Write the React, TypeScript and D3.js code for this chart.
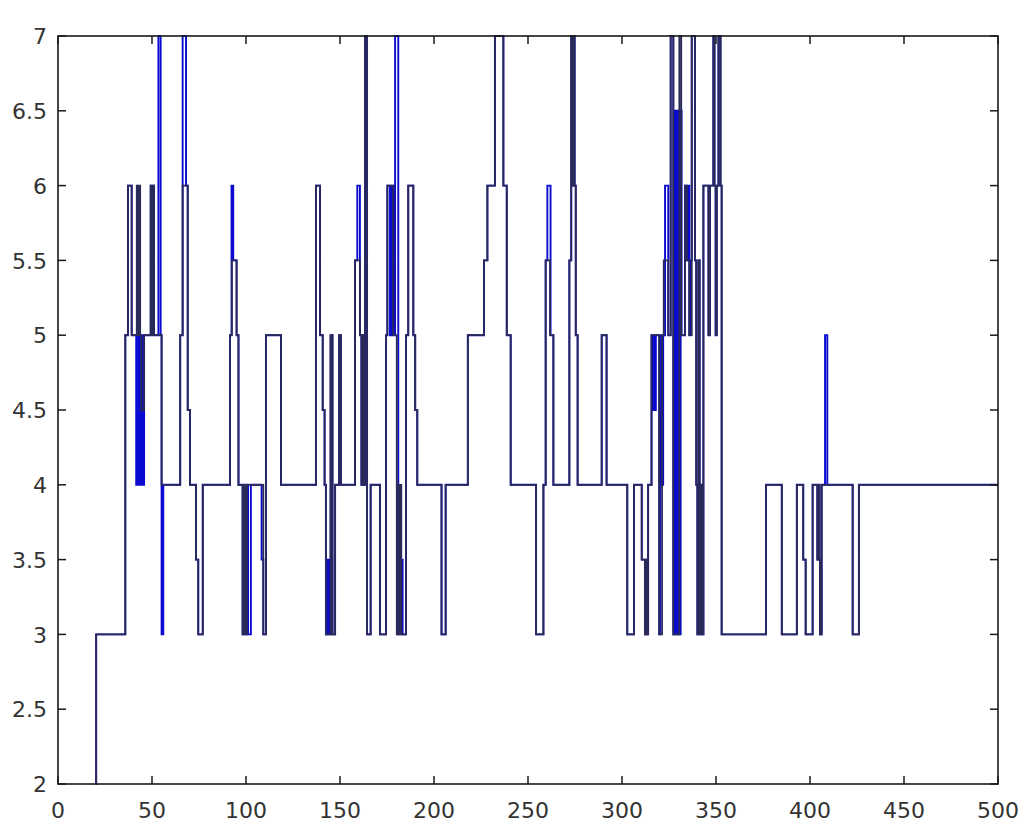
import React from "react";
import * as d3 from "d3";

// Step change points (x where the value starts, value)
const darkX = [20, 20.3, 35.8, 37.2, 39.2, 41.9, 42.5, 43.1, 43.7, 44.3, 45.8, 49.3, 49.9, 50.5, 51.1, 55.1, 65, 66.3, 69, 70.2, 73.4, 74.6, 77, 91.5, 92.5, 95, 96, 98.2, 98.9, 99.6, 100.5, 109.2, 110.6, 118.6, 137.2, 139.4, 140.8, 141.8, 142.5, 145, 146, 147.4, 149.5, 150.5, 158, 160.6, 161.4, 162, 162.6, 163.3, 164.4, 166.3, 171.3, 174.5, 175.2, 178.3, 180.2, 180.8, 181.4, 182, 182.6, 185.1, 186.3, 189, 190, 191.1, 204, 206.2, 218, 226.6, 228.4, 232.4, 236.9, 238.7, 240.8, 254.3, 258.2, 259.4, 261.7, 263.5, 272, 273, 273.6, 274.2, 274.8, 275.4, 276.4, 289.2, 291.8, 302.8, 306.4, 310.5, 312.2, 312.8, 313.4, 313.9, 315.7, 319.8, 321.3, 322.2, 324.6, 325.9, 327.3, 330.5, 331.5, 333.5, 334.5, 335.8, 337.1, 338.8, 339.5, 340.1, 340.7, 341.3, 341.8, 342.4, 343.3, 346, 346.8, 348.6, 349.2, 349.8, 350.4, 351.3, 352.4, 353, 376.6, 385, 393, 396.4, 397.7, 401.4, 403.9, 404.5, 405, 405.3, 406.2, 422.7, 426, 500];
const darkY = [2, 3, 5, 6, 5, 6, 5, 6, 5, 4.5, 5, 6, 5, 6, 5, 4, 5, 6, 4.5, 4, 3.5, 3, 4, 5, 5.5, 5, 4, 3, 4, 3, 4, 3, 5, 4, 6, 5, 4.5, 4, 3, 5, 3, 4, 5, 4, 5.5, 5, 4, 5, 4, 7, 3, 4, 3, 5, 6, 5, 3, 4, 3, 4, 3, 5, 6, 5, 4.5, 4, 3, 4, 5, 5.5, 6, 7, 6, 5, 4, 3, 4, 5.5, 5, 4, 5.5, 7, 6, 7, 6, 5, 4, 5, 4, 3, 4, 3.5, 3, 3.5, 3, 4, 5, 3, 5, 5.5, 5, 7, 3, 7, 5, 6, 5.5, 5, 7, 5.5, 4, 3, 5.5, 3, 4, 3, 6, 5, 6, 7, 6, 5, 6, 7, 6, 3, 4, 3, 4, 3.5, 3, 4, 3.5, 4, 3.5, 3, 4, 3, 4, 4];

const blueX = [20, 20.3, 35.8, 37.2, 39.2, 41.6, 42.2, 42.7, 43.3, 43.9, 44.5, 45, 45.8, 49.3, 49.9, 50.5, 51.1, 53.4, 54.6, 55.1, 56, 65, 66.3, 68.1, 69, 70.2, 73.4, 74.6, 77, 91.5, 92.3, 93.2, 95, 96, 98.2, 98.9, 99.6, 100.5, 101.1, 102.6, 108.3, 109.2, 110.6, 118.6, 137.2, 139.4, 140.8, 141.8, 142.5, 143, 143.6, 144.2, 144.8, 145, 146, 147.4, 149.5, 150.5, 158, 159.2, 160.6, 161.4, 162, 162.6, 163.3, 164.4, 166.3, 171.3, 174.5, 175.2, 176.6, 177.4, 178.3, 179.3, 181, 181.6, 182.3, 182.9, 183.3, 185.1, 186.3, 189, 190, 191.1, 204, 206.2, 218, 226.6, 228.4, 232.4, 236.9, 238.7, 240.8, 254.3, 258.2, 259.4, 260.3, 262, 263.5, 272, 273, 273.6, 274.2, 274.8, 275.4, 276.4, 289.2, 291.8, 302.8, 306.4, 310.5, 312.2, 312.8, 313.4, 313.9, 315.7, 316.3, 316.9, 317.5, 318, 319.8, 320.2, 320.8, 321.3, 321.9, 322.9, 324.6, 325.9, 327.3, 328.3, 329, 329.7, 330.4, 331.2, 331.7, 333.5, 334.2, 334.9, 335.8, 336.4, 337.1, 338.8, 339.5, 340.1, 340.7, 341.3, 341.8, 342.4, 343.3, 346, 346.8, 348.6, 349.2, 349.8, 350.4, 351.3, 352.4, 353, 376.6, 385, 393, 396.4, 397.7, 401.4, 403.9, 404.5, 405, 405.3, 406.2, 408, 409.2, 422.7, 426, 500];
const blueY = [2, 3, 5, 6, 5, 4, 5, 4, 5, 4, 5, 4, 5, 6, 5, 6, 5, 7, 5, 3, 4, 5, 7, 6, 4.5, 4, 3.5, 3, 4, 5, 6, 5.5, 5, 4, 3, 4, 3, 4, 3, 4, 3.5, 3, 5, 4, 6, 5, 4.5, 4, 3, 3.5, 3, 3.5, 3, 5, 3, 4, 5, 4, 5.5, 6, 5, 4, 5, 4, 7, 3, 4, 3, 5, 6, 5, 6, 5, 7, 3, 3.5, 3, 3.5, 3, 5, 6, 5, 4.5, 4, 3, 4, 5, 5.5, 6, 7, 6, 5, 4, 3, 4, 5.5, 6, 5, 4, 5.5, 7, 6, 7, 6, 5, 4, 5, 4, 3, 4, 3.5, 3, 3.5, 3, 4, 5, 4.5, 5, 4.5, 5, 3, 4, 5, 4, 5, 6, 5, 7, 3, 6.5, 3, 6.5, 3, 6.5, 5, 6, 5.5, 6, 5, 5.5, 7, 5.5, 4, 3, 5.5, 3, 4, 3, 6, 5, 6, 7, 6, 5, 6, 7, 6, 3, 4, 3, 4, 3.5, 3, 4, 3.5, 4, 3.5, 3, 4, 5, 4, 3, 4, 4];

const xTicks = [0, 50, 100, 150, 200, 250, 300, 350, 400, 450, 500];
const yTicks = [2, 2.5, 3, 3.5, 4, 4.5, 5, 5.5, 6, 6.5, 7];

const W = 1024;
const H = 824;
const LEFT = 58;
const RIGHT = 998;
const TOP = 36;
const BOTTOM = 784;

export default function App() {
  const x = d3.scaleLinear().domain([0, 500]).range([LEFT, RIGHT]);
  const y = d3.scaleLinear().domain([2, 7]).range([BOTTOM, TOP]);
  const line = d3
    .line<[number, number]>()
    .x((d) => x(d[0]))
    .y((d) => y(d[1]))
    .curve(d3.curveStepAfter);

  const dark: [number, number][] = darkX.map((v, i) => [v, darkY[i]]);
  const blue: [number, number][] = blueX.map((v, i) => [v, blueY[i]]);
  const tickLen = 8;
  const font = "'DejaVu Sans', sans-serif";

  return (
    <svg
      width={W}
      height={H}
      style={{ position: "absolute", left: 0, top: 0, background: "#fff" }}
    >
      <rect x={0} y={0} width={W} height={H} fill="#fff" />
      <path d={line(blue) || ""} fill="none" stroke="#0a0ad0" strokeWidth={1.9} />
      <path d={line(dark) || ""} fill="none" stroke="#2a2a58" strokeWidth={1.8} />
      <rect
        x={LEFT}
        y={TOP}
        width={RIGHT - LEFT}
        height={BOTTOM - TOP}
        fill="none"
        stroke="#1a1a1a"
        strokeWidth={1.6}
      />
      {xTicks.map((t) => (
        <g key={"x" + t}>
          <line x1={x(t)} x2={x(t)} y1={BOTTOM} y2={BOTTOM - tickLen} stroke="#1a1a1a" strokeWidth={1.5} />
          <line x1={x(t)} x2={x(t)} y1={TOP} y2={TOP + tickLen} stroke="#1a1a1a" strokeWidth={1.5} />
          <text
            x={x(t)}
            y={BOTTOM + 34}
            textAnchor="middle"
            fontFamily={font}
            fontSize={22}
            fill="#333"
          >
            {t}
          </text>
        </g>
      ))}
      {yTicks.map((t) => (
        <g key={"y" + t}>
          <line x1={LEFT} x2={LEFT + tickLen} y1={y(t)} y2={y(t)} stroke="#1a1a1a" strokeWidth={1.5} />
          <line x1={RIGHT} x2={RIGHT - tickLen} y1={y(t)} y2={y(t)} stroke="#1a1a1a" strokeWidth={1.5} />
          <text
            x={LEFT - 11}
            y={y(t)}
            dy="0.37em"
            textAnchor="end"
            fontFamily={font}
            fontSize={22}
            fill="#333"
          >
            {String(t)}
          </text>
        </g>
      ))}
    </svg>
  );
}
